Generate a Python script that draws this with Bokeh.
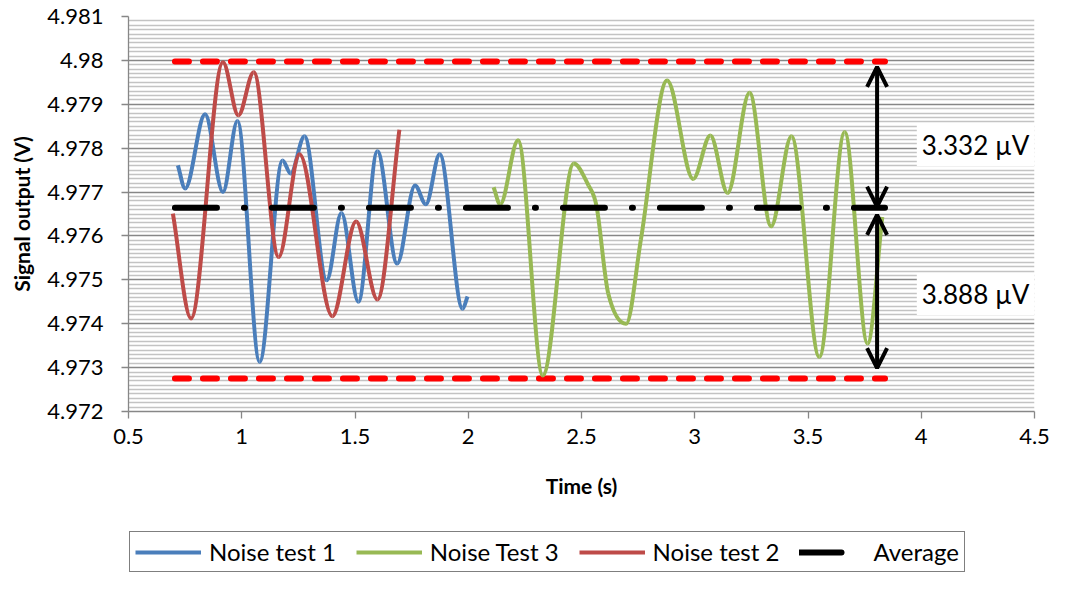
from bokeh.plotting import figure
from bokeh.layouts import column
from bokeh.models import (FixedTicker, NumeralTickFormatter, Legend, LegendItem,
                          Label, Arrow, OpenHead, Range1d, ColumnDataSource)
from bokeh.embed import file_html
from bokeh.resources import INLINE

# ---------------- data ----------------
test1_time = [0.718, 0.750, 0.838, 0.917, 0.981, 1.079, 1.180, 1.216, 1.277, 1.375,
              1.440, 1.515, 1.599, 1.686, 1.765, 1.813, 1.874, 1.975, 1.997]
test1_volt = [4.97761, 4.97708, 4.97877, 4.97700, 4.97862, 4.97313, 4.97772, 4.97742,
              4.97827, 4.97499, 4.97652, 4.97450, 4.97793, 4.97537, 4.97715, 4.97672,
              4.97786, 4.97434, 4.97462]

test2_time = [0.696, 0.776, 0.917, 0.985, 1.053, 1.163, 1.255, 1.400, 1.505, 1.599, 1.696]
test2_volt = [4.97651, 4.97412, 4.97996, 4.97875, 4.97973, 4.97552, 4.97786, 4.97417,
              4.97633, 4.97455, 4.97842]

test3_time = [2.112, 2.141, 2.220, 2.329, 2.466, 2.531, 2.567, 2.618, 2.697, 2.762,
              2.878, 2.993, 3.069, 3.145, 3.242, 3.337, 3.427, 3.550, 3.662, 3.763, 3.828]
test3_volt = [4.97711, 4.97672, 4.97818, 4.97282, 4.97765, 4.97715, 4.97666, 4.97469,
              4.97400, 4.97591, 4.97954, 4.97730, 4.97829, 4.97698, 4.97926, 4.97622,
              4.97827, 4.97324, 4.97837, 4.97355, 4.97643]

ref_time = [0.705, 3.840]
average_level = 4.976640
upper_level = 4.979972
lower_level = 4.972752

series_names = ["Noise test 1", "Noise Test 3", "Noise test 2", "Average"]
upper_text = "3.332 µV"
lower_text = "3.888 µV"

x_ticks = [0.5, 1.0, 1.5, 2.0, 2.5, 3.0, 3.5, 4.0, 4.5]
y_ticks = [4.972, 4.973, 4.974, 4.975, 4.976, 4.977, 4.978, 4.979, 4.980, 4.981]

BLUE = "#4A7EBB"
RED = "#BE4B48"
GREEN = "#98B954"
FONT = "Lato"
AVG_DASH = "42 27 1 27"


def smooth_segments(xs, ys):
    """Bezier control points for a smoothed line through the read points."""
    n = len(xs)
    slopes = []
    for i in range(n):
        if i == 0:
            s = (ys[1] - ys[0]) / (xs[1] - xs[0])
        elif i == n - 1:
            s = (ys[-1] - ys[-2]) / (xs[-1] - xs[-2])
        else:
            d0 = ys[i] - ys[i - 1]
            d1 = ys[i + 1] - ys[i]
            s = 0.0 if d0 * d1 <= 0 else (ys[i + 1] - ys[i - 1]) / (xs[i + 1] - xs[i - 1])
        slopes.append(s)
    d = dict(x0=[], y0=[], x1=[], y1=[], cx0=[], cy0=[], cx1=[], cy1=[])
    for i in range(n - 1):
        h = xs[i + 1] - xs[i]
        d["x0"].append(xs[i]); d["y0"].append(ys[i])
        d["x1"].append(xs[i + 1]); d["y1"].append(ys[i + 1])
        d["cx0"].append(xs[i] + h / 3); d["cy0"].append(ys[i] + slopes[i] * h / 3)
        d["cx1"].append(xs[i + 1] - h / 3); d["cy1"].append(ys[i + 1] - slopes[i + 1] * h / 3)
    return ColumnDataSource(d)


p = figure(width=1050, height=530, output_backend="svg", toolbar_location=None,
           x_range=Range1d(0.5, 4.5), y_range=Range1d(4.972, 4.981),
           min_border_left=128, min_border_right=16, min_border_top=16, min_border_bottom=119)
p.outline_line_color = None
p.background_fill_color = "white"

# grid
minor = []
for a, b in zip(y_ticks[:-1], y_ticks[1:]):
    for k in range(1, 10):
        minor.append(a + (b - a) * k / 10)
p.yaxis.ticker = FixedTicker(ticks=y_ticks, minor_ticks=minor)
p.xaxis.ticker = FixedTicker(ticks=x_ticks)
p.xgrid.visible = False
p.ygrid.grid_line_color = "#878787"
p.ygrid.grid_line_width = 1.3
p.ygrid.minor_grid_line_color = "#c3c3c3"
p.ygrid.minor_grid_line_width = 1.5

p.yaxis.formatter = NumeralTickFormatter(format="0.[000]")
p.xaxis.formatter = NumeralTickFormatter(format="0.[0]")

for ax in (p.xaxis[0], p.yaxis[0]):
    ax.axis_line_color = "#878787"
    ax.axis_line_width = 1.3
    ax.major_tick_line_color = "#878787"
    ax.major_tick_line_width = 1.3
    ax.major_tick_out = 7
    ax.major_tick_in = 0
    ax.minor_tick_line_color = None
    ax.major_label_text_font = FONT
    ax.major_label_text_font_size = "22px"
    ax.major_label_text_color = "black"
    ax.axis_label_text_font = FONT
    ax.axis_label_text_font_size = "21px"
    ax.axis_label_text_font_style = "bold"
    ax.axis_label_text_color = "black"

p.xaxis.axis_label = "Time (s)"
p.yaxis.axis_label = "Signal output (V)"
p.xaxis.major_label_standoff = 10
p.xaxis.axis_label_standoff = 26
p.yaxis.major_label_standoff = 18
p.yaxis.axis_label_standoff = 10

# reference lines
p.line(ref_time, [upper_level] * 2, line_color="#FF0000", line_width=6,
       line_dash="14 14", line_cap="round")
p.line(ref_time, [lower_level] * 2, line_color="#FF0000", line_width=6,
       line_dash="14 14", line_cap="round")

# noise curves
for xs, ys, col in ((test1_time, test1_volt, BLUE), (test3_time, test3_volt, GREEN),
                    (test2_time, test2_volt, RED)):
    p.bezier(x0="x0", y0="y0", x1="x1", y1="y1", cx0="cx0", cy0="cy0", cx1="cx1", cy1="cy1",
             source=smooth_segments(xs, ys), line_color=col, line_width=4)

p.line(ref_time, [average_level] * 2, line_color="black", line_width=6,
       line_dash=AVG_DASH, line_cap="round")

# arrows and labels
arrow_x = 3.805
for ys, ye in ((4.97667, 4.97985), (4.97299, 4.97648)):
    p.add_layout(Arrow(x_start=arrow_x, y_start=ys, x_end=arrow_x, y_end=ye,
                       line_width=4, line_color="black",
                       start=OpenHead(size=20, line_width=4, line_color="black"),
                       end=OpenHead(size=20, line_width=4, line_color="black")))

for txt, yy in ((upper_text, 4.97807), (lower_text, 4.97468)):
    p.add_layout(Label(x=4.24, y=yy, text=txt, text_align="center",
                       text_baseline="middle", text_font=FONT,
                       text_font_size="26px", text_color="black",
                       background_fill_color="white", padding=5))

# ---------------- legend strip (frame is aligned with the chart's frame) ----------------
lg = figure(width=1050, height=43, output_backend="svg", toolbar_location=None,
            x_range=Range1d(0, 1), y_range=Range1d(0, 1),
            x_axis_type=None, y_axis_type=None,
            min_border_left=0, min_border_right=0, min_border_top=0, min_border_bottom=0)
lg.outline_line_color = None
lg.grid.visible = False

# legend key renderers (kept outside the strip's visible range)
off = [-5, -4]
l1 = lg.line(off, off, line_color=BLUE, line_width=4)
l3 = lg.line(off, off, line_color=GREEN, line_width=4)
l2 = lg.line(off, off, line_color=RED, line_width=4)
la = lg.line(off, off, line_color="black", line_width=6, line_dash=AVG_DASH, line_cap="round")

legend = Legend(items=[LegendItem(label=series_names[0], renderers=[l1]),
                       LegendItem(label=series_names[1], renderers=[l3]),
                       LegendItem(label=series_names[2], renderers=[l2]),
                       LegendItem(label=series_names[3], renderers=[la])],
                location=(1, 1), orientation="horizontal",
                border_line_color="black", border_line_width=1,
                background_fill_color="white", background_fill_alpha=1,
                padding=5, margin=0, spacing=20, label_standoff=8,
                glyph_width=66, glyph_height=24, label_height=24,
                label_text_font=FONT, label_text_font_size="24px",
                label_text_color="black")
lg.add_layout(legend, "center")

open("out.html", "w").write(file_html(column(p, lg, spacing=0), INLINE))
